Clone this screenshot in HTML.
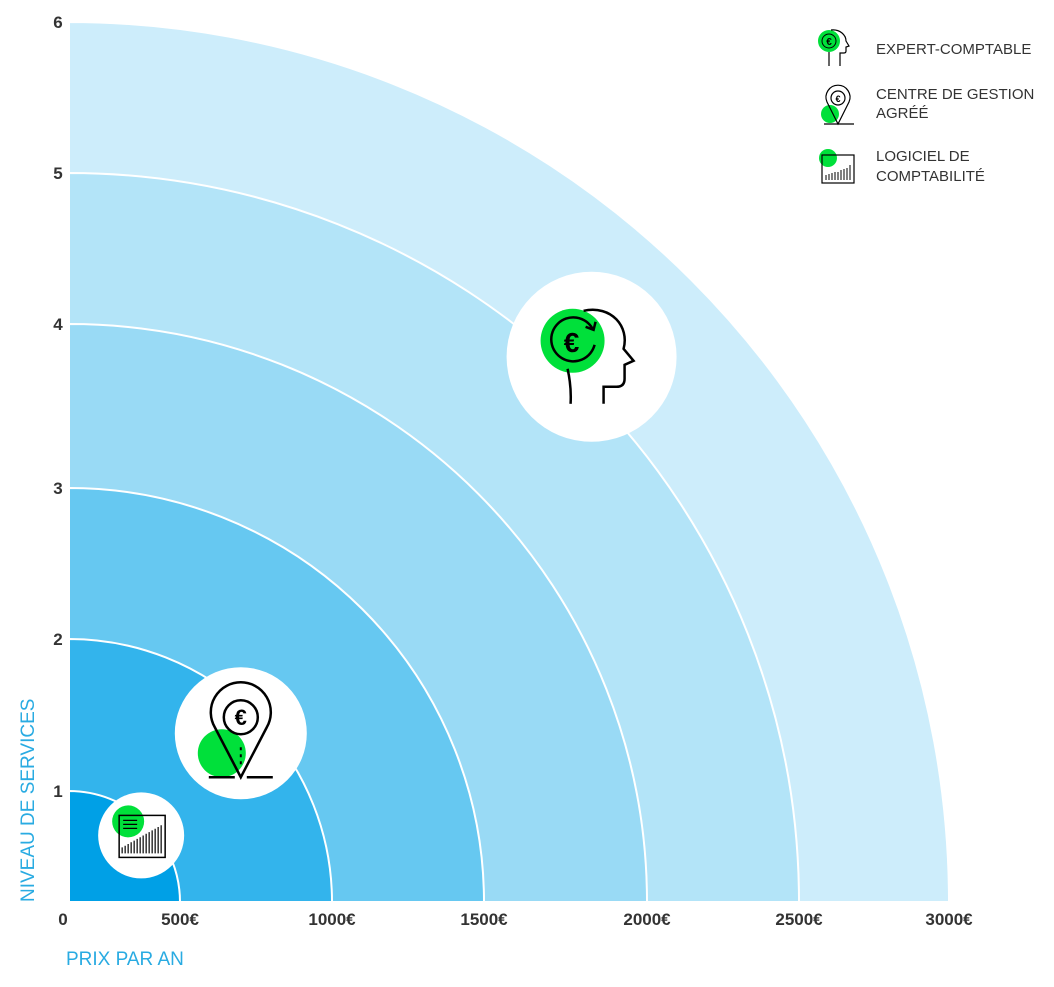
<!DOCTYPE html>
<html><head><meta charset="utf-8"><style>
body{margin:0;background:#fff;width:1054px;height:982px;overflow:hidden}
svg{font-family:"Liberation Sans",sans-serif}
</style></head><body>
<svg id="c" width="1054" height="982">
<g id="rings"></g>
<g id="axes"></g>
<g id="bubbles"></g>
<text x="34" y="902" fill="#29abe2" font-size="19" transform="rotate(-90 34 902)">NIVEAU DE SERVICES</text>
<text x="66" y="965" fill="#29abe2" font-size="19">PRIX PAR AN</text>
<g font-size="15" fill="#333">
 <g>
  <circle cx="829" cy="41" r="11" fill="#00e03a"/>
  <circle cx="829" cy="41" r="7" fill="none" stroke="#000" stroke-width="1"/>
  <text x="829" y="45" font-size="10" font-weight="bold" text-anchor="middle" fill="#000">€</text>
  <path d="M831 30 C840 29 846 35 846 41 L849 46 L846 47 V51 Q846 53 844 53 H840 V66 M829 52 V66" fill="none" stroke="#000" stroke-width="1.2"/>
  <text x="876" y="54">EXPERT-COMPTABLE</text>
 </g>
 <g>
  <circle cx="830" cy="114" r="9" fill="#00e03a"/>
  <path d="M838 124 l-11 -22 a12 12 0 1 1 22 0 z M824 124 h30" fill="none" stroke="#000" stroke-width="1.2"/>
  <circle cx="838" cy="98" r="7" fill="none" stroke="#000" stroke-width="1.2"/>
  <text x="838" y="102" font-size="9" font-weight="bold" text-anchor="middle" fill="#000">€</text>
  <text x="876" y="99">CENTRE DE GESTION</text><text x="876" y="118">AGRÉÉ</text>
 </g>
 <g>
  <circle cx="828" cy="158" r="9" fill="#00e03a"/>
  <rect x="822" y="155" width="32" height="28" fill="none" stroke="#000" stroke-width="1.2"/>
  <path d="M826 180 v-5 M829 180 v-6 M832 180 v-7 M835 180 v-8 M838 180 v-8 M841 180 v-10 M844 180 v-11 M847 180 v-12 M850 180 v-15" stroke="#000"/>
  <text x="876" y="161">LOGICIEL DE</text><text x="876" y="181">COMPTABILITÉ</text>
 </g>
</g>
</svg>
<script>
const xTickLabels=["0","500€","1000€","1500€","2000€","2500€","3000€"];
const xTickValues=[0,500,1000,1500,2000,2500,3000];
const yTickValues=[0,1,2,3,4,5,6];
const ringColors=["#00a0e6","#33b4ec","#66c8f1","#99daf5","#b3e4f8","#cdedfb"];
const bubbleNames=["logiciel","cga","expert"];
const bubblePrices=[325,700,1830];
const bubbleLevels=[0.6,1.38,3.8];
const bubbleRadii=[43,66,85];
const X0=69,Y0=902;
const xPix=[69,180,332,484,647,799,949];
const yPix=[902,791,639,488,324,173,22];
function interp(v,vals,pix){for(let i=1;i<vals.length;i++){if(v<=vals[i]||i==vals.length-1){const t=(v-vals[i-1])/(vals[i]-vals[i-1]);return pix[i-1]+t*(pix[i]-pix[i-1]);}}}
const xs=v=>interp(v,xTickValues,xPix), ys=v=>interp(v,yTickValues,yPix);
const NS="http://www.w3.org/2000/svg";
function mk(t,a,p){const e=document.createElementNS(NS,t);for(const k in a)e.setAttribute(k,a[k]);p.appendChild(e);return e;}
const rings=document.getElementById('rings');
for(let i=6;i>=1;i--){const rx=xs(xTickValues[i])-X0, ry=Y0-ys(yTickValues[i]);
 const p=mk('path',{d:`M${X0} ${Y0} V${Y0-ry} A${rx} ${ry} 0 0 1 ${X0+rx} ${Y0} Z`,fill:ringColors[i-1],stroke:"#fff","stroke-width":2},rings);
 
 }
mk('line',{x1:X0,y1:Y0,x2:X0,y2:20,stroke:"#fff","stroke-width":2},rings);
const axes=document.getElementById('axes');
xTickValues.forEach((v,i)=>{const t=mk('text',{x:i==0?63:xs(v),y:925,"text-anchor":"middle","font-size":17,"font-weight":"bold",fill:"#333"},axes);t.textContent=xTickLabels[i];
 
 });
yTickValues.forEach((v,i)=>{if(i==0)return;const t=mk('text',{x:58,y:ys(v)+6,"text-anchor":"middle","font-size":17,"font-weight":"bold",fill:"#333"},axes);t.textContent=String(v);
 
 });
const bg=document.getElementById('bubbles');
bubbleNames.forEach((n,i)=>{const cx=xs(bubblePrices[i]),cy=ys(bubbleLevels[i]),r=bubbleRadii[i];
 const g=mk('g',{},bg);
 
 
 mk('circle',{cx,cy,r,fill:"#fff"},g);
 if(n=="expert"){
  mk('circle',{cx:cx-19,cy:cy-16,r:32,fill:"#00e03a"},g);
  mk('path',{d:`M${cx-19+20} ${cy-16-12} A22 22 0 1 0 ${cx-19+22} ${cy-16+4}`,fill:"none",stroke:"#000","stroke-width":2.5},g);
  mk('path',{d:`M${cx-6} ${cy-30} l8 3 l2 -8`,fill:"none",stroke:"#000","stroke-width":2.5},g);
  const t=mk('text',{x:cx-20,y:cy-5,"text-anchor":"middle","font-size":28,"font-weight":"bold"},g);t.textContent="€";
  mk('path',{d:`M${cx-8} ${cy-46} C${cx+20} ${cy-52} ${cx+38} ${cy-30} ${cx+32} ${cy-8} L${cx+42} ${cy+4} L${cx+33} ${cy+8} V${cy+22} Q${cx+33} ${cy+30} ${cx+25} ${cy+30} H${cx+12} V${cy+47} M${cx-24} ${cy+12} Q${cx-20} ${cy+30} ${cx-21} ${cy+47}`,fill:"none",stroke:"#000","stroke-width":2.5},g);
 } else if(n=="cga"){
  mk('circle',{cx:cx-19,cy:cy+20,r:24,fill:"#00e03a"},g);
  mk('path',{d:`M${cx} ${cy+44} L${cx-26} ${cy-6} A30 30 0 1 1 ${cx+26} ${cy-6} Z M${cx-32} ${cy+44} h26 M${cx+6} ${cy+44} h26`,fill:"none",stroke:"#000","stroke-width":2.5},g);
  mk('circle',{cx,cy:cy-16,r:17,fill:"none",stroke:"#000","stroke-width":2.5},g);
  const t=mk('text',{x:cx,y:cy-8,"text-anchor":"middle","font-size":22,"font-weight":"bold"},g);t.textContent="€";
  mk('path',{d:`M${cx} ${cy+14} v3 M${cx} ${cy+21} v3 M${cx} ${cy+28} v3`,stroke:"#000","stroke-width":2},g);
 } else {
  mk('circle',{cx:cx-13,cy:cy-14,r:16,fill:"#00e03a"},g);
  mk('rect',{x:cx-22,y:cy-20,width:46,height:42,fill:"none",stroke:"#000","stroke-width":1.5},g);
  mk('path',{d:`M${cx-18} ${cy-15} h14 M${cx-18} ${cy-11} h14 M${cx-18} ${cy-7} h14`,stroke:"#000","stroke-width":1.2},g);
  let d="";for(let k=0;k<14;k++){const h=6+k*1.7;d+=`M${cx-19+k*3} ${cy+18} v-${h} `;}
  mk('path',{d,stroke:"#000","stroke-width":1.2},g);
 }
});
</script>
</body></html>
